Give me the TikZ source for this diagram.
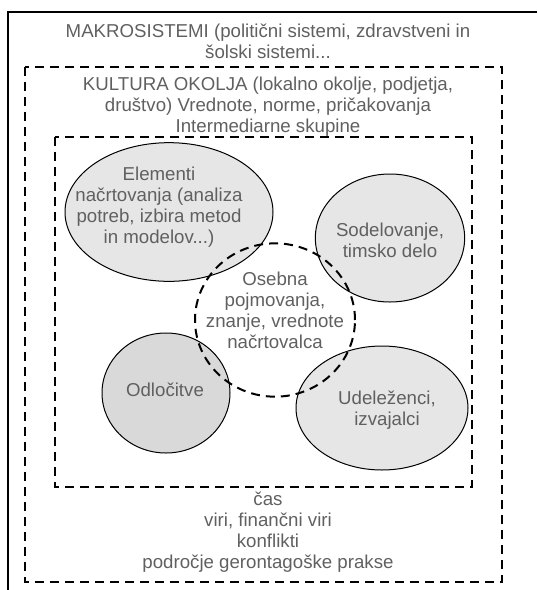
\documentclass[tikz,border=0pt]{standalone}
\usepackage{fontspec}
\setmainfont{Liberation Sans}
\usetikzlibrary{shapes.geometric}
\definecolor{txtgray}{HTML}{606060}
\definecolor{lightfill}{HTML}{E6E6E6}
\definecolor{darkfill}{HTML}{D9D9D9}
\tikzset{
  lbl/.style={text=txtgray, align=center, inner sep=0pt,
    font=\fontsize{14}{15.75}\selectfont},
  bubble/.style={ellipse, draw, line width=0.75pt, fill=lightfill, inner sep=0pt},
  frame/.style={line width=1.5pt, dash pattern=on 6.75pt off 4.5pt},
}
\begin{document}
\begin{tikzpicture}[x=0.75pt,y=-0.75pt]
  \useasboundingbox (0,0) rectangle (537,590);
  % outer frame and the two dashed levels
  \draw[line width=1pt] (537,12) -- (8,12) -- (8,590);
  \draw[frame] (25,67) rectangle (502,582);
  \draw[frame] (55,137) rectangle (472,487);
  \node[lbl] (makro) at (268,41) {MAKROSISTEMI (politični sistemi, zdravstveni in\\šolski sistemi...};
  \node[lbl] (kultura) at (268,107) {KULTURA OKOLJA (lokalno okolje, podjetja,\\društvo) Vrednote, norme, pričakovanja\\Intermediarne skupine};
  \node[lbl] (viri) at (268,532) {čas\\viri, finančni viri\\konflikti\\področje gerontagoške prakse};
  % the four bubbles
  \node[bubble, minimum width=156pt, minimum height=104pt] (elem) at (169,212) {};
  \node[bubble, minimum width=112pt, minimum height=96pt] (sodel) at (390,238) {};
  \node[bubble, fill=darkfill, minimum width=96pt, minimum height=90pt] (odloc) at (166,393) {};
  \node[bubble, minimum width=129pt, minimum height=93pt] (udel) at (382,408) {};
  % designer in the middle
  \node[ellipse, draw, frame, minimum width=120pt, minimum height=115pt] (osebna) at (275,320) {};
  \node[lbl] (elemtxt) at (159,207) {Elementi\\načrtovanja (analiza\\potreb, izbira metod\\in modelov...)};
  \node[lbl] (sodeltxt) at (390,240) {Sodelovanje,\\timsko delo};
  \node[lbl] (odloctxt) at (165,390) {Odločitve};
  \node[lbl] (udeltxt) at (387,410) {Udeleženci,\\izvajalci};
  \node[lbl] (osebnatxt) at (275,310) {Osebna\\pojmovanja,\\znanje, vrednote\\načrtovalca};
\end{tikzpicture}
\end{document}
